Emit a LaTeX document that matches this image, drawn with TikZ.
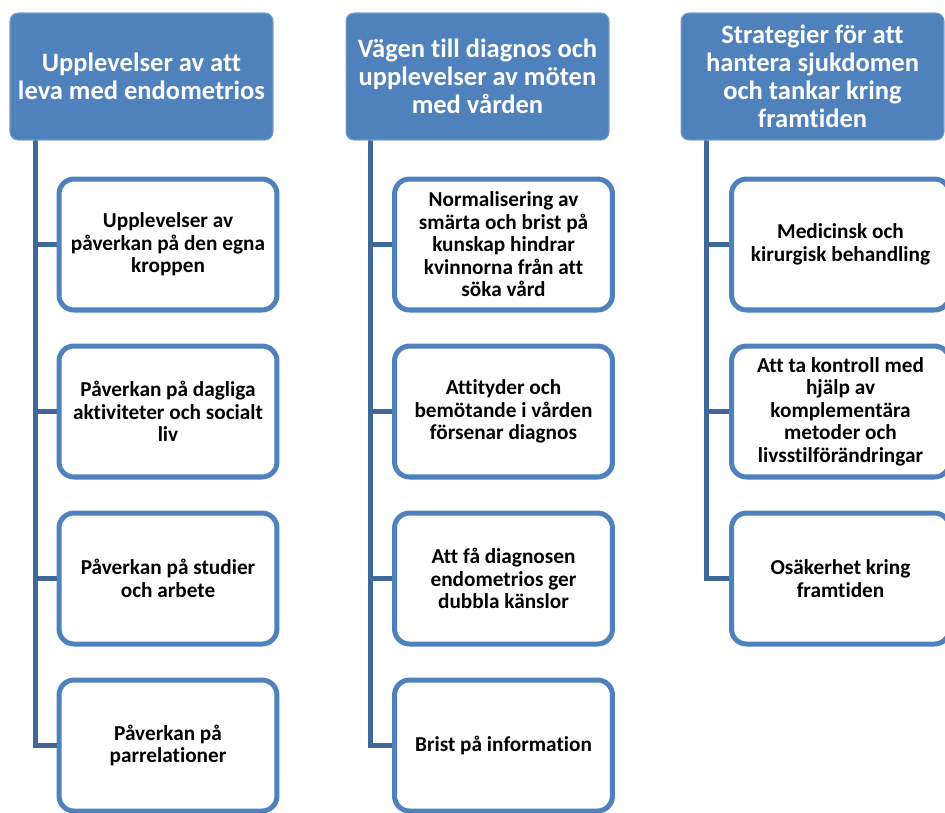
\documentclass[tikz,border=0pt]{standalone}
\usepackage{fontspec}
\setmainfont{Carlito}[Ligatures=NoCommon]
\usetikzlibrary{backgrounds}
\definecolor{boxblue}{HTML}{4F81BD}
\definecolor{hdrline}{HTML}{7A9CCB}
\definecolor{trunkblue}{HTML}{3D6899}
\tikzset{
  hdr/.style={rectangle, rounded corners=0.16cm, fill=boxblue, draw=hdrline, line width=0.6pt,
    minimum width=5.26cm, minimum height=2.54cm, inner sep=0pt, outer sep=0pt,
    align=center, text=white, font=\fontsize{15.1}{15.9}\selectfont\bfseries},
  child/.style={rectangle, rounded corners=0.3cm, fill=white, draw=boxblue, line width=2.85pt,
    minimum width=4.36cm, minimum height=2.62cm, inner sep=0pt, outer sep=0pt,
    align=center, text=black, font=\fontsize{12.1}{12.8}\selectfont\bfseries},
  trunk/.style={draw=trunkblue, line width=2.85pt}
}
\begin{document}
\begin{tikzpicture}[x=0.02cm, y=-0.02cm]
\useasboundingbox (0,0) rectangle (945,812);
\clip (0,0) rectangle (945,812);
% headers
\node[hdr] (h1) at (141.5,76.5) {Upplevelser av att\\leva med endometrios};
\node[hdr] (h2) at (477.5,76.5) {Vägen till diagnos och\\upplevelser av möten\\med vården};
\node[hdr] (h3) at (812.5,76.5) {Strategier för att\\hantera sjukdomen\\och tankar kring\\framtiden};
% column 1
\node[child] (c11) at (168,244.5) {Upplevelser av\\påverkan på den egna\\kroppen};
\node[child] (c12) at (168,411.5) {Påverkan på dagliga\\aktiviteter och socialt\\liv};
\node[child] (c13) at (168,578.5) {Påverkan på studier\\och arbete};
\node[child] (c14) at (168,745.5) {Påverkan på\\parrelationer};
% column 2
\node[child] (c21) at (503.5,244.5) {Normalisering av\\smärta och brist på\\kunskap hindrar\\kvinnorna från att\\söka vård};
\node[child] (c22) at (503.5,411.5) {Attityder och\\bemötande i vården\\försenar diagnos};
\node[child] (c23) at (503.5,578.5) {Att få diagnosen\\endometrios ger\\dubbla känslor};
\node[child] (c24) at (503.5,745.5) {Brist på information};
% column 3
\node[child] (c31) at (840.5,244.5) {Medicinsk och\\kirurgisk behandling};
\node[child] (c32) at (840.5,411.5) {Att ta kontroll med\\hjälp av\\komplementära\\metoder och\\livsstilförändringar};
\node[child] (c33) at (840.5,578.5) {Osäkerhet kring\\framtiden};
% connectors
\coordinate (t1) at ([xshift=0.5cm]h1.south west);
\coordinate (t2) at ([xshift=0.48cm]h2.south west);
\coordinate (t3) at ([xshift=0.5cm]h3.south west);
\begin{scope}[on background layer]
\draw[trunk] (t1) |- (c14.west);
\draw[trunk] (t1 |- c11.west) -- (c11.west);
\draw[trunk] (t1 |- c12.west) -- (c12.west);
\draw[trunk] (t1 |- c13.west) -- (c13.west);
\draw[trunk] (t2) |- (c24.west);
\draw[trunk] (t2 |- c21.west) -- (c21.west);
\draw[trunk] (t2 |- c22.west) -- (c22.west);
\draw[trunk] (t2 |- c23.west) -- (c23.west);
\draw[trunk] (t3) |- (c33.west);
\draw[trunk] (t3 |- c31.west) -- (c31.west);
\draw[trunk] (t3 |- c32.west) -- (c32.west);
\end{scope}
\end{tikzpicture}
\end{document}
